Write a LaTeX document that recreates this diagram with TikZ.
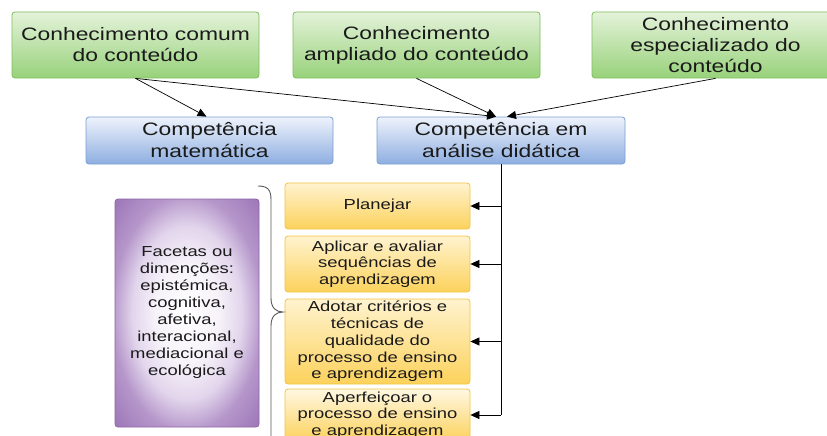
\documentclass[tikz,border=0pt]{standalone}
\usepackage{fontspec}
\setmainfont{Liberation Sans}[FakeStretch=1.27]
\usetikzlibrary{arrows.meta,shadings}
\definecolor{txt}{HTML}{1A1A1A}
\definecolor{gTop}{HTML}{E4F3DA}
\definecolor{gBot}{HTML}{98D27A}
\definecolor{gBor}{HTML}{7DBF5E}
\definecolor{bTop}{HTML}{EEF3FC}
\definecolor{bBot}{HTML}{8EAEE0}
\definecolor{bBor}{HTML}{7B9ED3}
\definecolor{yTop}{HTML}{FFF3CF}
\definecolor{yBot}{HTML}{FCD25C}
\definecolor{yBor}{HTML}{F2C443}
\definecolor{pMid}{HTML}{E2D5EC}
\definecolor{pOut}{HTML}{B596CA}
\definecolor{pDark}{HTML}{A07BBA}
\definecolor{pBor}{HTML}{8E64A8}
\pgfdeclareradialshading{facetshade}{\pgfpoint{0bp}{0bp}}{color(0bp)=(white); color(11bp)=(white!70!pMid); color(19bp)=(pMid); color(26bp)=(pOut); color(34bp)=(pDark); color(50bp)=(pDark)}
\begin{document}
\begin{tikzpicture}[x=1pt,y=-1pt,
  box/.style={rounded corners=3pt, line width=0.8pt, text=txt, align=center, inner sep=0pt},
  gbox/.style={box, draw=gBor, top color=gTop, bottom color=gBot, font=\fontsize{18}{21}\selectfont},
  bbox/.style={box, draw=bBor, top color=bTop, bottom color=bBot, font=\fontsize{18}{22}\selectfont},
  ybox/.style={box, draw=yBor, top color=yTop, bottom color=yBot, font=\fontsize{14.5}{16.7}\selectfont},
  pbox/.style={box, draw=pBor, shading=facetshade, font=\fontsize{14.5}{17}\selectfont},
  arr/.style={-{Triangle[length=9pt,width=8pt]}, line width=0.7pt, draw=black},
  brc/.style={draw=black!65, line width=0.9pt}
]
\useasboundingbox (0,0) rectangle (827,436);
\clip (0,0) rectangle (827,436);
% green boxes
\node[gbox, minimum width=247pt, minimum height=66pt] (g1) at (135.5,45) {Conhecimento comum\\do conteúdo};
\node[gbox, minimum width=247pt, minimum height=66pt] (g2) at (416.5,45) {Conhecimento\\ampliado do conteúdo};
\node[gbox, minimum width=247pt, minimum height=66pt] (g3) at (715.5,45) {Conhecimento\\especializado do\\conteúdo};
% blue boxes
\node[bbox, minimum width=247pt, minimum height=47pt] (b1) at (209.5,140.5) {Competência\\matemática};
\node[bbox, minimum width=248pt, minimum height=47pt] (b2) at (501,140.5) {Competência em\\análise didática};
% yellow boxes
\node[ybox, minimum width=185pt, minimum height=46pt] (y1) at (377.5,206) {Planejar};
\node[ybox, minimum width=185pt, minimum height=56pt] (y2) at (377.5,264) {Aplicar e avaliar\\sequências de\\aprendizagem};
\node[ybox, minimum width=185pt, minimum height=85pt] (y3) at (377.5,341.5) {Adotar critérios e\\técnicas de\\qualidade do\\processo de ensino\\e aprendizagem};
\node[ybox, minimum width=185pt, minimum height=52pt, top color=yTop!60!white] (y4) at (377.5,415) {Aperfeiçoar o\\processo de ensino\\e aprendizagem};
% purple box
\node[pbox, minimum width=144pt, minimum height=228pt] (p) at (187,313) {Facetas ou\\dimenções:\\epistémica,\\cognitiva,\\afetiva,\\interacional,\\mediacional e\\ecológica};
% coordinates
\coordinate (g1s) at (g1.south);
\coordinate (b1t) at ([xshift=-3pt]b1.north);
\coordinate (b2tl) at ([xshift=-5pt]b2.north);
\coordinate (b2tr) at ([xshift=6pt]b2.north);
\coordinate (v0) at (b2.south);
\coordinate (v1) at (b2.south |- y1.east);
\coordinate (v2) at (b2.south |- y2.east);
\coordinate (v3) at (b2.south |- y3.east);
\coordinate (v4) at (b2.south |- y4.east);
% connectors
\draw[arr] (g1s) -- (b1t);
\draw[arr] (g1s) -- (b2tl);
\draw[arr] (g2.south) -- (b2tl);
\draw[arr] (g3.south) -- (b2tr);
\draw[line width=0.7pt] (v0) -- (v4);
\draw[arr] (v1) -- (y1.east);
\draw[arr] (v2) -- (y2.east);
\draw[arr] (v3) -- (y3.east);
\draw[arr] (v4) -- (y4.east);
% brace
\coordinate (bt) at (258,186);
\coordinate (bm) at (283,312);
\draw[brc] (bt) .. controls (268,186) and (271,190) .. (271,200) -- (271,298) .. controls (271,308) and (276,312) .. (bm) .. controls (276,312) and (271,316) .. (271,326) -- (271,440);
\end{tikzpicture}
\end{document}
